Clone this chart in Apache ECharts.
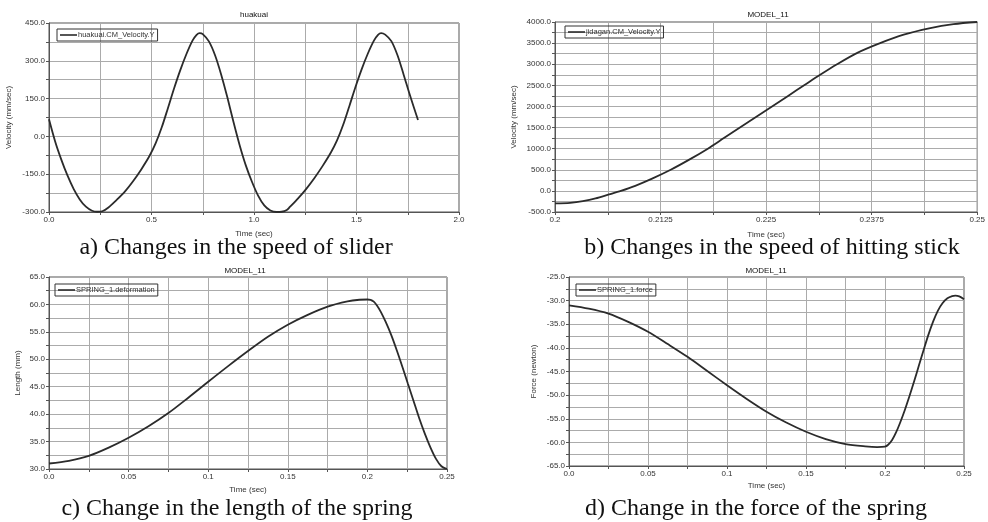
<!DOCTYPE html>
<html>
<head>
<meta charset="utf-8">
<script src="https://cdn.jsdelivr.net/npm/echarts@6/dist/echarts.min.js"></script>
<style>
  html, body { margin: 0; padding: 0; background: #fff; }
  #container { width: 988px; height: 522px; }
</style>
</head>
<body>
<div id="container"></div>
<script>
// a) slider velocity
var aTime = [0, 0.03, 0.06, 0.09, 0.12, 0.15, 0.18, 0.21, 0.235, 0.26, 0.29, 0.33, 0.37, 0.41, 0.45, 0.49, 0.52, 0.55, 0.58, 0.61, 0.64, 0.67, 0.70, 0.72, 0.735, 0.75, 0.78, 0.81, 0.84, 0.87, 0.90, 0.93, 0.96, 0.99, 1.02, 1.05, 1.08, 1.11, 1.135, 1.16, 1.175, 1.215, 1.255, 1.295, 1.335, 1.375, 1.405, 1.435, 1.465, 1.495, 1.525, 1.555, 1.585, 1.605, 1.62, 1.64, 1.67, 1.70, 1.73, 1.76, 1.80];
var aVel = [68, -20, -92, -155, -208, -250, -279, -295, -299, -297, -282, -252, -219, -178, -131, -78, -28, 36, 112, 190, 262, 326, 380, 403, 410, 406, 377, 322, 245, 155, 57, -35, -115, -180, -235, -274, -294, -300, -299, -292, -280, -246, -208, -165, -117, -64, -16, 46, 120, 196, 266, 328, 380, 403, 410, 404, 378, 322, 245, 165, 65];

// b) hitting stick velocity
var bTime = [0.2, 0.2018, 0.2033, 0.2048, 0.2064, 0.2078, 0.2095, 0.2115, 0.2137, 0.2159, 0.2181, 0.22, 0.2219, 0.2238, 0.2257, 0.2276, 0.2295, 0.2314, 0.2334, 0.2358, 0.2385, 0.2413, 0.2443, 0.2472, 0.25];
var bVel = [-298, -282, -243, -180, -85, 0, 120, 290, 500, 740, 1000, 1250, 1500, 1750, 2000, 2250, 2500, 2750, 3000, 3270, 3500, 3700, 3850, 3950, 4000];

// c) spring length
var cTime = [0, 0.0125, 0.025, 0.0375, 0.05, 0.0625, 0.075, 0.0875, 0.1, 0.1125, 0.125, 0.1375, 0.15, 0.1625, 0.175, 0.1875, 0.195, 0.2, 0.202, 0.204, 0.206, 0.2085, 0.2115, 0.215, 0.2185, 0.222, 0.2255, 0.229, 0.2325, 0.236, 0.2395, 0.243, 0.2465, 0.25];
var cLen = [31.0, 31.5, 32.4, 33.9, 35.7, 37.8, 40.2, 43.0, 45.9, 48.75, 51.5, 54.1, 56.3, 58.1, 59.6, 60.55, 60.85, 60.9, 60.85, 60.5, 59.8, 58.6, 56.8, 54.4, 51.6, 48.6, 45.5, 42.4, 39.3, 36.5, 34.0, 31.9, 30.5, 30.0];

// d) spring force
var dTime = [0, 0.0125, 0.025, 0.0375, 0.05, 0.0625, 0.075, 0.0875, 0.1, 0.1125, 0.125, 0.1375, 0.15, 0.1625, 0.175, 0.1875, 0.195, 0.2, 0.202, 0.2045, 0.207, 0.2095, 0.2125, 0.2155, 0.2185, 0.2215, 0.2245, 0.2275, 0.2305, 0.2335, 0.2365, 0.2395, 0.2425, 0.2445, 0.247, 0.25];
var dForce = [-31.0, -31.7, -32.75, -34.5, -36.6, -39.2, -41.9, -44.9, -47.9, -50.8, -53.5, -55.8, -57.75, -59.3, -60.35, -60.85, -61.0, -60.9, -60.5, -59.5, -57.9, -55.9, -53.2, -50.2, -47.0, -43.7, -40.4, -37.2, -34.4, -32.1, -30.5, -29.5, -29.05, -28.95, -29.1, -29.7];

// tick labels
var aXLabels = ['0.0', '0.5', '1.0', '1.5', '2.0'];
var aYLabels = ['-300.0', '-150.0', '0.0', '150.0', '300.0', '450.0'];
var bXLabels = ['0.2', '0.2125', '0.225', '0.2375', '0.25'];
var bYLabels = ['-500.0', '0.0', '500.0', '1000.0', '1500.0', '2000.0', '2500.0', '3000.0', '3500.0', '4000.0'];
var cdXLabels = ['0.0', '0.05', '0.1', '0.15', '0.2', '0.25'];
var cYLabels = ['30.0', '35.0', '40.0', '45.0', '50.0', '55.0', '60.0', '65.0'];
var dYLabels = ['-65.0', '-60.0', '-55.0', '-50.0', '-45.0', '-40.0', '-35.0', '-30.0', '-25.0'];

var seriesNames = ['huakuai.CM_Velocity.Y', 'jidagan.CM_Velocity.Y', 'SPRING_1.deformation', 'SPRING_1.force'];

function zip(xs, ys) {
  return xs.map(function (x, i) { return [x, ys[i]]; });
}

function pick(labels, min, step) {
  return function (v) {
    var i = Math.round((v - min) / step);
    return labels[i] || '';
  };
}

var gridColor = '#ababab';
var frameColor = '#555';
var labelFont = { fontSize: 8, color: '#333', fontFamily: 'Liberation Sans' };

function axis(idx, min, max, step, labels, name, gap) {
  return {
    type: 'value', gridIndex: idx, min: min, max: max, interval: step,
    name: name, nameLocation: 'middle', nameGap: gap,
    nameTextStyle: labelFont,
    axisLine: { show: true, onZero: false, lineStyle: { color: frameColor } },
    axisTick: { show: true, length: 3, lineStyle: { color: frameColor } },
    minorTick: { show: true, splitNumber: 2, length: 3, lineStyle: { color: frameColor } },
    axisLabel: Object.assign({ margin: 4, formatter: pick(labels, min, step), showMinLabel: true, showMaxLabel: true }, labelFont),
    splitLine: { show: true, lineStyle: { color: gridColor } },
    minorSplitLine: { show: true, lineStyle: { color: gridColor } }
  };
}

function lineSeries(idx, name, data) {
  return {
    type: 'line', name: name, xAxisIndex: idx, yAxisIndex: idx,
    data: data, symbol: 'none', smooth: 0.3, animation: false,
    lineStyle: { color: '#2b2b2b', width: 1.8 },
    itemStyle: { color: '#2b2b2b' }
  };
}

function legend(name, left, top) {
  return {
    data: [name], left: left, top: top, orient: 'vertical', icon: 'rect',
    borderColor: '#333', borderWidth: 1, borderRadius: 0, padding: [2, 3],
    itemWidth: 17, itemHeight: 1.6, itemGap: 0,
    textStyle: { fontSize: 7.5, color: '#333', fontFamily: 'Liberation Sans', padding: [0, 0, 0, -4] },
    selectedMode: false
  };
}

function text(str, x, y, size, family) {
  return {
    type: 'text', x: x, y: y, silent: true,
    style: { text: str, fontSize: size, fontFamily: family, fill: '#111', textAlign: 'center', textVerticalAlign: 'middle' }
  };
}

var dom = document.getElementById('container');
var myChart = echarts.init(dom, null, { renderer: 'canvas' });

var option = {
  backgroundColor: '#fff',
  animation: false,
  grid: [
    { left: 49, top: 23, width: 410, height: 189, show: true, borderColor: frameColor, borderWidth: 1 },
    { left: 555, top: 22, width: 425, height: 190, show: true, borderColor: frameColor, borderWidth: 1 },
    { left: 49, top: 277, width: 398, height: 192, show: true, borderColor: frameColor, borderWidth: 1 },
    { left: 569, top: 277, width: 395, height: 189, show: true, borderColor: frameColor, borderWidth: 1 }
  ],
  xAxis: [
    axis(0, 0, 2, 0.5, aXLabels, 'Time (sec)', 18),
    axis(1, 0.2, 0.25, 0.0125, bXLabels, 'Time (sec)', 19),
    axis(2, 0, 0.25, 0.05, cdXLabels, 'Time (sec)', 17),
    axis(3, 0, 0.25, 0.05, cdXLabels, 'Time (sec)', 16)
  ],
  yAxis: [
    axis(0, -300, 450, 150, aYLabels, 'Velocity (mm/sec)', 36),
    axis(1, -500, 4000, 500, bYLabels, 'Velocity (mm/sec)', 37),
    axis(2, 30, 65, 5, cYLabels, 'Length (mm)', 27),
    axis(3, -65, -25, 5, dYLabels, 'Force (newton)', 31)
  ],
  legend: [
    legend(seriesNames[0], 57, 29),
    legend(seriesNames[1], 565, 26),
    legend(seriesNames[2], 55, 284),
    legend(seriesNames[3], 576, 284)
  ],
  series: [
    lineSeries(0, seriesNames[0], zip(aTime, aVel)),
    lineSeries(1, seriesNames[1], zip(bTime, bVel)),
    lineSeries(2, seriesNames[2], zip(cTime, cLen)),
    lineSeries(3, seriesNames[3], zip(dTime, dForce))
  ],
  graphic: [
    text('huakuai', 254, 15, 8, 'Liberation Sans'),
    text('MODEL_11', 768, 15, 8, 'Liberation Sans'),
    text('MODEL_11', 245, 271, 8, 'Liberation Sans'),
    text('MODEL_11', 766, 271, 8, 'Liberation Sans'),
    text('a) Changes in the speed of slider', 236, 248, 24, 'Liberation Serif'),
    text('b) Changes in the speed of hitting stick', 772, 248, 24, 'Liberation Serif'),
    text('c) Change in the length of the spring', 237, 509, 24, 'Liberation Serif'),
    text('d) Change in the force of the spring', 756, 509, 24, 'Liberation Serif')
  ]
};

myChart.setOption(option);
window.addEventListener('resize', myChart.resize);
</script>
</body>
</html>
